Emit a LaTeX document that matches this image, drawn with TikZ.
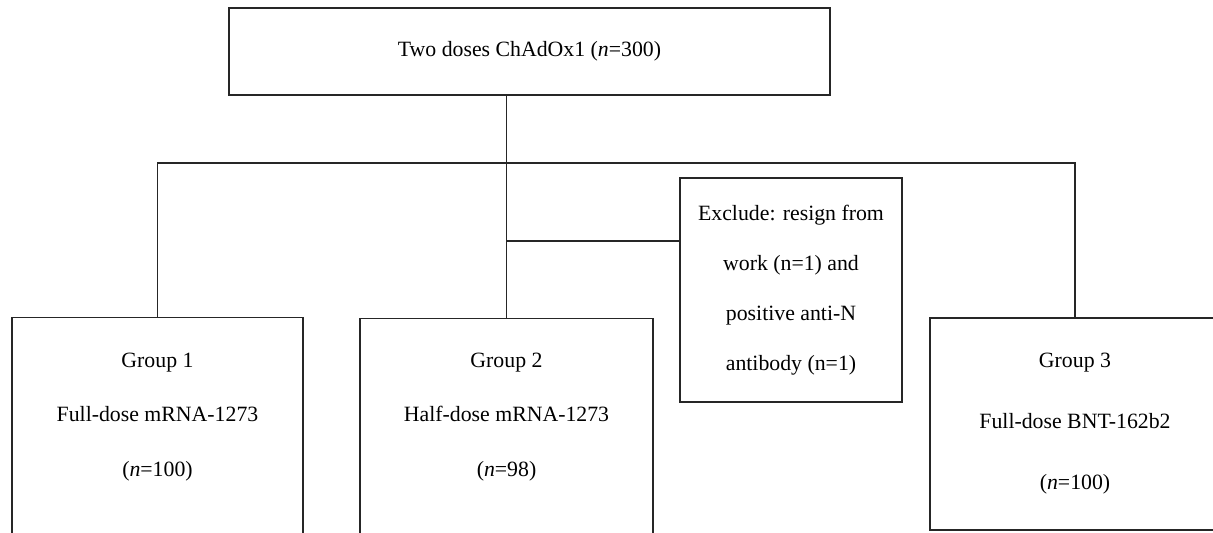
\documentclass[tikz,border=0pt]{standalone}
\usepackage{fontspec}
\setmainfont{Liberation Serif}
\usetikzlibrary{positioning}

\begin{document}
\begin{tikzpicture}[
  x=0.5pt, y=-0.5pt,
  box/.style={draw=black!85, line width=0.6pt, inner sep=0pt, align=center},
  txt/.style={inner sep=0pt, align=center, font=\fontsize{10.9}{27.25}\selectfont},
  link/.style={draw=black!85, line width=0.6pt},
  font=\fontsize{10.9}{26}\selectfont
]
\useasboundingbox (0,0) rectangle (1213,532);

% ======= Top =======
\node[box, minimum width=300.5pt, minimum height=43.5pt] (dose) at (529.5,51.5)
  {Two doses ChAdOx1 (\textit{n}=300)};

% ======= Exclusion =======
\node[box, minimum width=111pt, minimum height=112pt,
      font=\fontsize{10.9}{25}\selectfont] (excl) at (791,290)
  {Exclude: resign from\\work (n=1) and\\positive anti-N\\antibody (n=1)};

% ======= Groups =======
\node[box, anchor=north, minimum width=145.5pt, minimum height=121.5pt] (grpA) at (157.5,317) {};
\node[txt] (grpAtxt) at (157.5,417) {Group 1\\Full-dose mRNA-1273\\(\textit{n}=100)};

\node[box, anchor=north, minimum width=146.5pt, minimum height=121.5pt] (grpB) at (506.5,318) {};
\node[txt] (grpBtxt) at (506.5,417) {Group 2\\Half-dose mRNA-1273\\(\textit{n}=98)};

\node[box, minimum width=145pt, minimum height=106pt,
      font=\fontsize{10.9}{30.5}\selectfont] (grpC) at (1075,424)
  {Group 3\\Full-dose BNT-162b2\\(\textit{n}=100)};

% ======= Connections =======
\coordinate (split) at (506.5,163);
\coordinate (bend)  at (506.5,241);
\draw[link] (dose.south -| grpB.north) -- (grpB.north);
\draw[link] (grpA.north) |- (split) -| (grpC.north);
\draw[link] (bend) -- (bend -| excl.west);

\end{tikzpicture}
\end{document}
